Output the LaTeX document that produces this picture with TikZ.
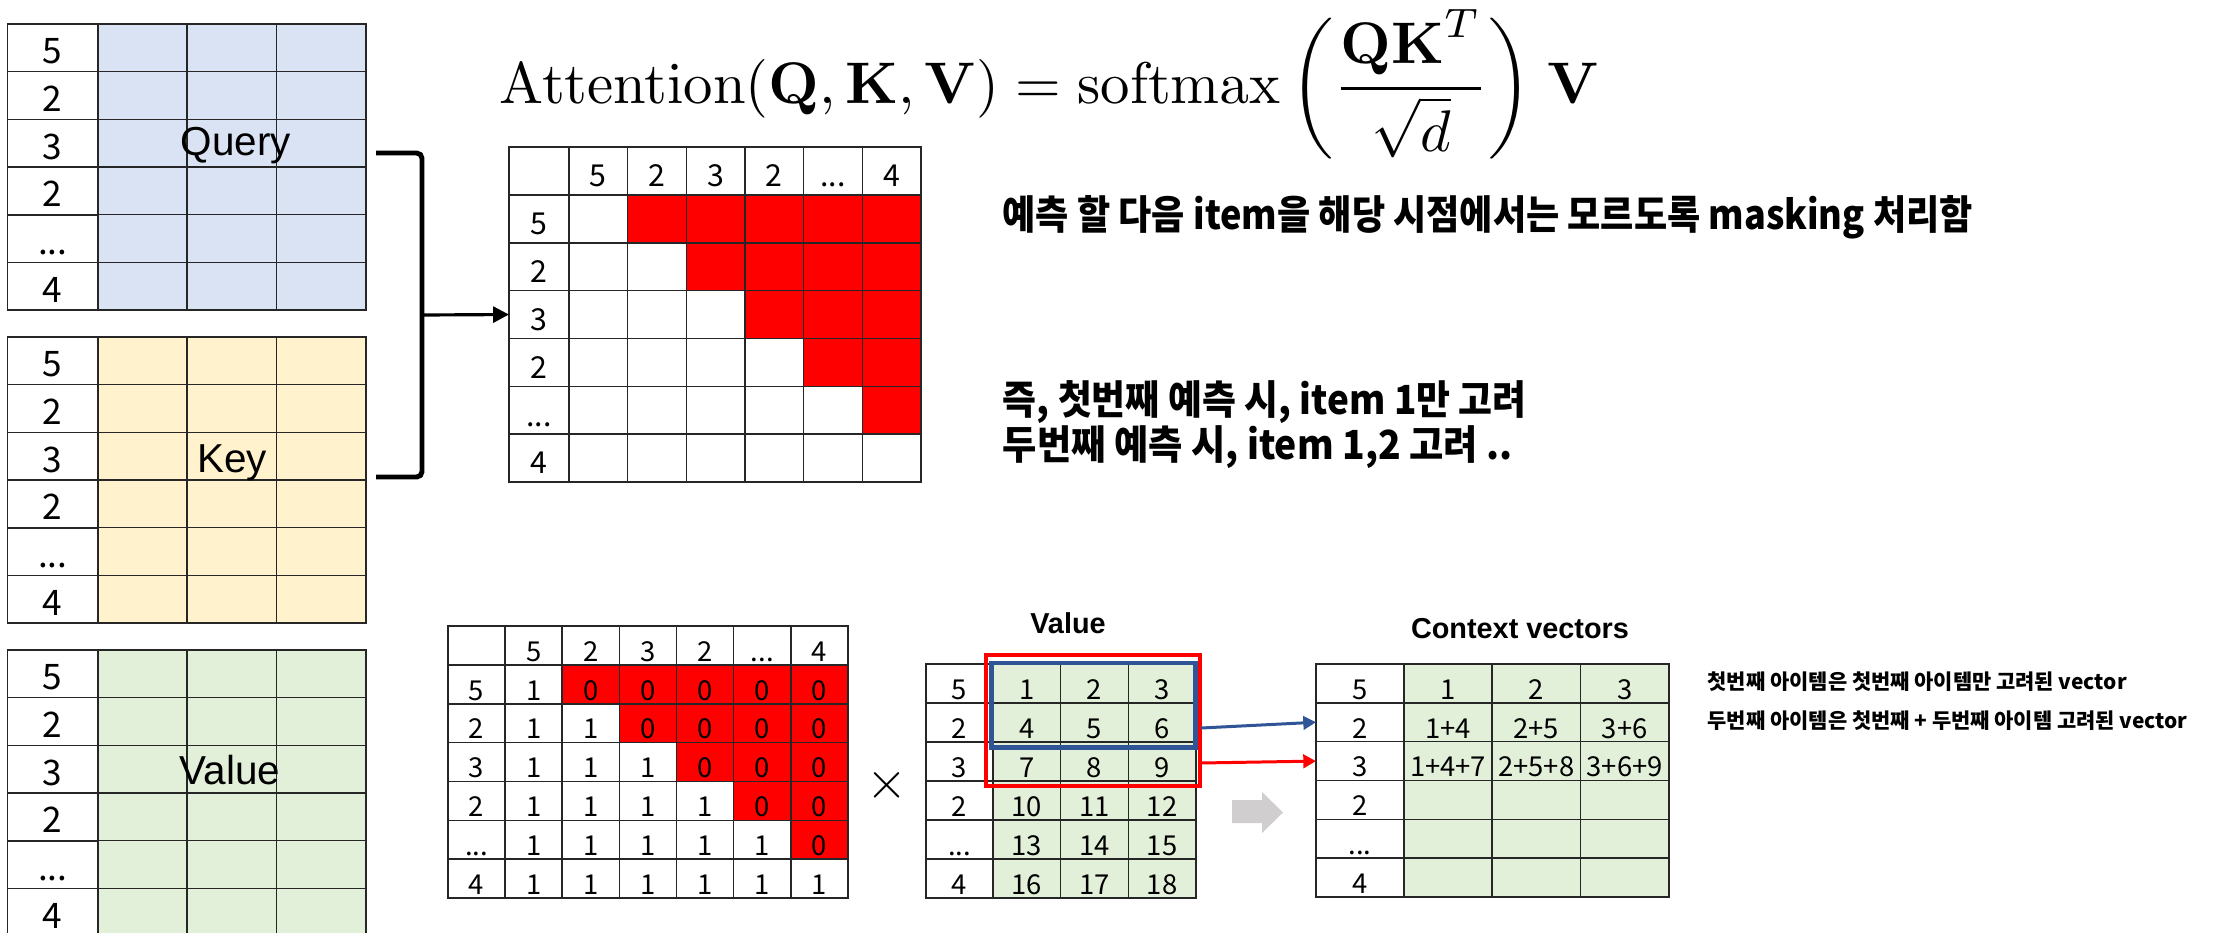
\documentclass[tikz,border=0pt]{standalone}
\usepackage[no-math]{fontspec}
\setmainfont{Liberation Sans}
\newfontfamily\kr{Noto Sans CJK KR}
\usetikzlibrary{arrows.meta}
\definecolor{qblue}{HTML}{DAE3F3}
\definecolor{kyel}{HTML}{FFF2CC}
\definecolor{vgrn}{HTML}{E2F0D9}
\definecolor{mred}{HTML}{FF0000}
\definecolor{dblue}{HTML}{2F5597}
\definecolor{lgray}{HTML}{D0CECE}
\newcommand{\mydots}{...}
\tikzset{
  cell/.style={draw=black!85, line width=0.45pt, inner sep=0pt, outer sep=0pt, text height=0.9em, text depth=0pt, anchor=center},
  lab/.style={inner sep=0pt, outer sep=0pt, text height=0.9em, text depth=0pt, anchor=center},
  bigdig/.style={font=\kr\fontsize{10}{11}\selectfont},
  middig/.style={font=\kr\fontsize{8.6}{10}\selectfont},
  smalldig/.style={font=\kr\fontsize{7.8}{9}\selectfont},
  krbig/.style={anchor=base west, inner sep=0pt, font=\kr\bfseries\fontsize{11.4}{13}\selectfont},
  krsmall/.style={anchor=base west, inner sep=0pt, font=\kr\bfseries\fontsize{5.95}{7}\selectfont},
  bigname/.style={anchor=base, inner sep=0pt, font=\fontsize{11.5}{12}\selectfont},
  title/.style={anchor=base, inner sep=0pt, font=\bfseries\fontsize{8.2}{9}\selectfont},
  conn/.style={line width=0.85pt, -{Triangle[length=3.6pt,width=3.8pt]}},
}
\newcommand{\lefttable}[3]{%
  \foreach \lab [count=\r from 0] in {5,2,3,2,\mydots,4} {
    \pgfmathsetmacro{\cy}{#2+47.67*(\r+0.5)}
    \node[cell, bigdig, minimum width=0.905cm, minimum height=0.4767cm] (#1-\r-0) at (52.75,\cy) {\lab};
    \foreach \cx [count=\c] in {142.65,231.95,321.25} {
      \node[cell, fill=#3, minimum width=0.893cm, minimum height=0.4767cm] (#1-\r-\c) at (\cx,\cy) {};
    }
  }
}
\begin{document}
\begin{tikzpicture}[x=0.01cm,y=-0.01cm]
\useasboundingbox (0,0) rectangle (2223,932);
\clip (0,0) rectangle (2223,932);
\fill[white] (0,0) rectangle (2223,932);

% ---- left tables
\lefttable{lq}{24}{qblue}
\lefttable{lk}{337}{kyel}
\lefttable{lv}{650}{vgrn}
\node[bigname] (qlab) at (236,155) {Query};
\node[bigname] (klab) at (232,472) {Key};
\node[bigname] (vlab) at (230,784) {Value};

% ---- formula
\node[anchor=base west, inner sep=0pt, font=\fontsize{10}{12}\selectfont] (formula) at (499,103)
  {\scalebox{1.67}{$\displaystyle \mathrm{Attention}(\mathbf{Q},\mathbf{K},\mathbf{V}) = \mathrm{softmax}\,\bigg(\frac{\mathbf{QK}^T}{\sqrt{d}}\bigg)\;\mathbf{V}$}};

% ---- top mask table
\foreach \r in {0,...,6}{
  \foreach \c in {0,...,6}{
    \pgfmathsetmacro{\cy}{147+47.86*(\r+0.5)}
    \pgfmathsetmacro{\cx}{\c==0 ? 539 : 569+58.67*(\c-0.5)}
    \pgfmathsetmacro{\cw}{\c==0 ? 0.6 : 0.5867}
    \pgfmathtruncatemacro{\isred}{and(\r>0,\c>\r)}
    \ifnum\isred=1 \def\fc{mred}\else\def\fc{white}\fi
    \node[cell, fill=\fc, minimum width=\cw cm, minimum height=0.4786cm] (m-\r-\c) at (\cx,\cy) {};
  }
}
\foreach \lab [count=\c] in {5,2,3,2,\mydots,4}{
  \node[lab, middig] (mh-\c) at (m-0-\c) {\lab};
  \node[lab, middig] (mv-\c) at (m-\c-0) {\lab};
}

% ---- bracket and arrow
\draw[line width=1.4pt, rounded corners=1.5pt] (376,153) -- (422,153) -- (422,477) -- (376,477);
\coordinate (bmid) at (422,315);
\draw[line width=0.9pt, -{Triangle[length=4.5pt,width=4.5pt]}] (bmid) -- (m-3-0.west);

% ---- Korean explanation
\node[krbig] (t1) at (1002,229) {\scalebox{0.9}[1]{예측 할 다음 item을 해당 시점에서는 모르도록 masking 처리함}};
\node[krbig] (t2) at (1002,414) {\scalebox{0.92}[1]{즉, 첫번째 예측 시, item 1만 고려}};
\node[krbig] (t3) at (1002,459) {\scalebox{0.93}[1]{두번째 예측 시, item 1,2 고려 ..}};

% ---- bottom mask matrix
\foreach \r in {0,...,6}{
  \foreach \c in {0,...,6}{
    \pgfmathsetmacro{\cx}{448+57.14*(\c+0.5)}
    \pgfmathsetmacro{\cy}{626+38.86*(\r+0.5)}
    \pgfmathtruncatemacro{\isred}{and(\r>0,\c>\r)}
    \pgfmathtruncatemacro{\val}{\c<=\r}
    \ifnum\isred=1 \def\fc{mred}\else\def\fc{white}\fi
    \def\txt{}
    \ifnum\r>0 \ifnum\c>0 \edef\txt{\val}\fi\fi
    \node[cell, smalldig, fill=\fc, minimum width=0.5714cm, minimum height=0.3886cm] (b-\r-\c) at (\cx,\cy) {\txt};
  }
}
\foreach \lab [count=\c] in {5,2,3,2,\mydots,4}{
  \node[lab, smalldig] (bh-\c) at (b-0-\c) {\lab};
  \node[lab, smalldig] (bv-\c) at (b-\c-0) {\lab};
}
\node[inner sep=0pt, font=\fontsize{10}{12}\selectfont] (times) at (887,785) {\scalebox{1.5}{$\times$}};

% ---- value matrix
\node[title] (vtitle) at (1068,633) {Value};
\foreach \lab [count=\r from 0] in {5,2,3,2,\mydots,4}{
  \pgfmathsetmacro{\cy}{664+39*(\r+0.5)}
  \node[cell, smalldig, minimum width=0.67cm, minimum height=0.39cm] (val-\r-0) at (959.5,\cy) {\lab};
  \foreach \c in {1,2,3}{
    \pgfmathsetmacro{\cx}{993+67.67*(\c-0.5)}
    \pgfmathtruncatemacro{\val}{3*\r+\c}
    \node[cell, smalldig, fill=vgrn, minimum width=0.6767cm, minimum height=0.39cm] (val-\r-\c) at (\cx,\cy) {\val};
  }
}
\node[draw=dblue, line width=1.4pt, inner sep=0pt, minimum width=2.03cm, minimum height=0.84cm] (bluebox) at (1093.5,705) {};
\node[draw=mred, line width=1.15pt, inner sep=0pt, minimum width=2.14cm, minimum height=1.31cm] (redbox) at (1093,720.5) {};

% ---- gray block arrow
\fill[lgray] (1232,800) -- (1262,800) -- (1262,792) -- (1283,812.5) -- (1262,833) -- (1262,823) -- (1232,823) -- cycle;

% ---- context vectors
\node[title] (ctitle) at (1520,638) {Context vectors};
\foreach \lab [count=\r from 0] in {5,2,3,2,\mydots,4}{
  \pgfmathsetmacro{\cy}{664+38.83*(\r+0.5)}
  \node[cell, smalldig, minimum width=0.88cm, minimum height=0.3883cm] (c-\r-0) at (1360,\cy) {\lab};
  \foreach \c in {1,2,3}{
    \pgfmathsetmacro{\cx}{1404+88.25*(\c-0.5)}
    \node[cell, fill=vgrn, minimum width=0.8825cm, minimum height=0.3883cm] (c-\r-\c) at (\cx,\cy) {};
  }
}
\foreach \c/\ta/\tb/\tc in {1/1/1+4/1+4+7, 2/2/2+5/2+5+8, 3/3/3+6/3+6+9}{
  \node[lab, smalldig] (ct-0-\c) at (c-0-\c) {\ta};
  \node[lab, smalldig] (ct-1-\c) at (c-1-\c) {\tb};
  \node[lab, smalldig] (ct-2-\c) at (c-2-\c) {\tc};
}

% ---- connectors value -> context
\coordinate (bs) at (1201,728);
\coordinate (rs) at (1200,763);
\draw[conn, dblue] (bs) -- (c-1-0.west);
\draw[conn, mred] (rs) -- (c-2-0.west);

% ---- right notes
\node[krsmall] (s1) at (1707,689) {첫번째 아이템은 첫번째 아이템만 고려된 vector};
\node[krsmall] (s2) at (1707,728) {두번째 아이템은 첫번째 + 두번째 아이템 고려된 vector};
\end{tikzpicture}
\end{document}
